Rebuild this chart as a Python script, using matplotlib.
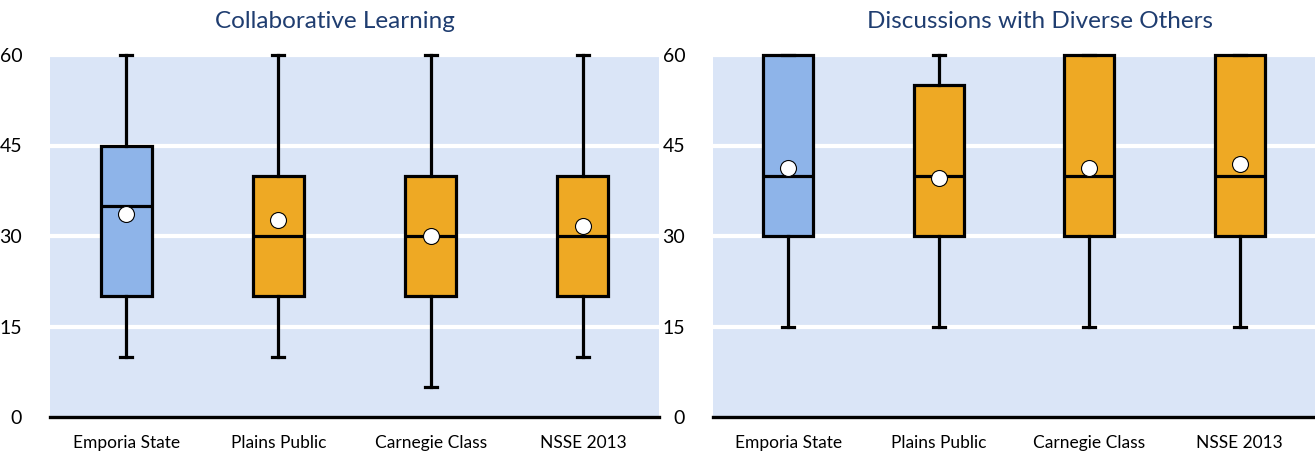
import matplotlib
matplotlib.use("Agg")
import matplotlib.pyplot as plt

plt.rcParams['font.family'] = ['Lato', 'DejaVu Sans']

categories = ["Emporia State", "Plains Public", "Carnegie Class", "NSSE 2013"]

# Collaborative Learning
collab_low = [10, 10, 5, 10]
collab_q1 = [20, 20, 20, 20]
collab_med = [35, 30, 30, 30]
collab_q3 = [45, 40, 40, 40]
collab_high = [60, 60, 60, 60]
collab_mean = [33.6, 32.6, 30.0, 31.7]

# Discussions with Diverse Others
divers_low = [15, 15, 15, 15]
divers_q1 = [30, 30, 30, 30]
divers_med = [40, 40, 40, 40]
divers_q3 = [60, 55, 60, 60]
divers_high = [60, 60, 60, 60]
divers_mean = [41.2, 39.6, 41.3, 42.0]

titles = ["Collaborative Learning", "Discussions with Diverse Others"]
yticks = [0, 15, 30, 45, 60]

blue = "#8EB4E9"
orange = "#EEA924"
bg = "#DAE5F7"
navy = "#1F3D70"


def make_stats(low, q1, med, q3, high, mean):
    out = []
    for i in range(len(low)):
        out.append(dict(whislo=low[i], q1=q1[i], med=med[i], q3=q3[i],
                        whishi=high[i], mean=mean[i], fliers=[]))
    return out


def draw(ax, stats):
    ax.set_facecolor(bg)
    for y in yticks[1:]:
        ax.axhline(y, color="white", lw=3, zorder=1)
    lw = 2.3
    bp = ax.bxp(stats, positions=range(len(stats)), widths=0.335,
                capwidths=0.08, patch_artist=True, showmeans=True,
                showfliers=False,
                boxprops=dict(lw=lw, edgecolor="black"),
                medianprops=dict(color="black", lw=lw),
                whiskerprops=dict(color="black", lw=lw),
                capprops=dict(color="black", lw=lw),
                meanprops=dict(marker="o", markerfacecolor="white",
                               markeredgecolor="black", markersize=11.5,
                               markeredgewidth=0.8))
    for i, b in enumerate(bp["boxes"]):
        b.set_facecolor(blue if i == 0 else orange)
    for k in bp:
        for a in bp[k]:
            a.set_clip_on(False)
            a.set_zorder(3)
    for m in bp["means"]:
        m.set_zorder(4)
    ax.set_ylim(0, 60)
    ax.set_xlim(-0.5, 3.5)
    ax.set_yticks(yticks)
    ax.set_xticks(range(len(categories)))
    ax.set_xticklabels(categories, fontsize=12.5)
    ax.tick_params(axis="both", length=0)
    ax.tick_params(axis="y", labelsize=14, pad=20)
    ax.tick_params(axis="x", pad=13)
    for s in ["top", "right", "left"]:
        ax.spines[s].set_visible(False)
    ax.spines["bottom"].set_linewidth(2.4)
    ax.spines["bottom"].set_zorder(5)


fig = plt.figure(figsize=(13.15, 4.54), dpi=100)
ax1 = fig.add_axes([50 / 1315, 37 / 454, 609 / 1315, 362 / 454])
ax2 = fig.add_axes([713 / 1315, 37 / 454, 602 / 1315, 362 / 454])

draw(ax1, make_stats(collab_low, collab_q1, collab_med, collab_q3, collab_high, collab_mean))
draw(ax2, make_stats(divers_low, divers_q1, divers_med, divers_q3, divers_high, divers_mean))

fig.text(335 / 1315, 1 - 21 / 454, titles[0], color=navy, fontsize=17.5,
         ha="center", va="center")
fig.text(1040 / 1315, 1 - 21 / 454, titles[1], color=navy, fontsize=17.5,
         ha="center", va="center")

fig.savefig("out.png", dpi=100)
